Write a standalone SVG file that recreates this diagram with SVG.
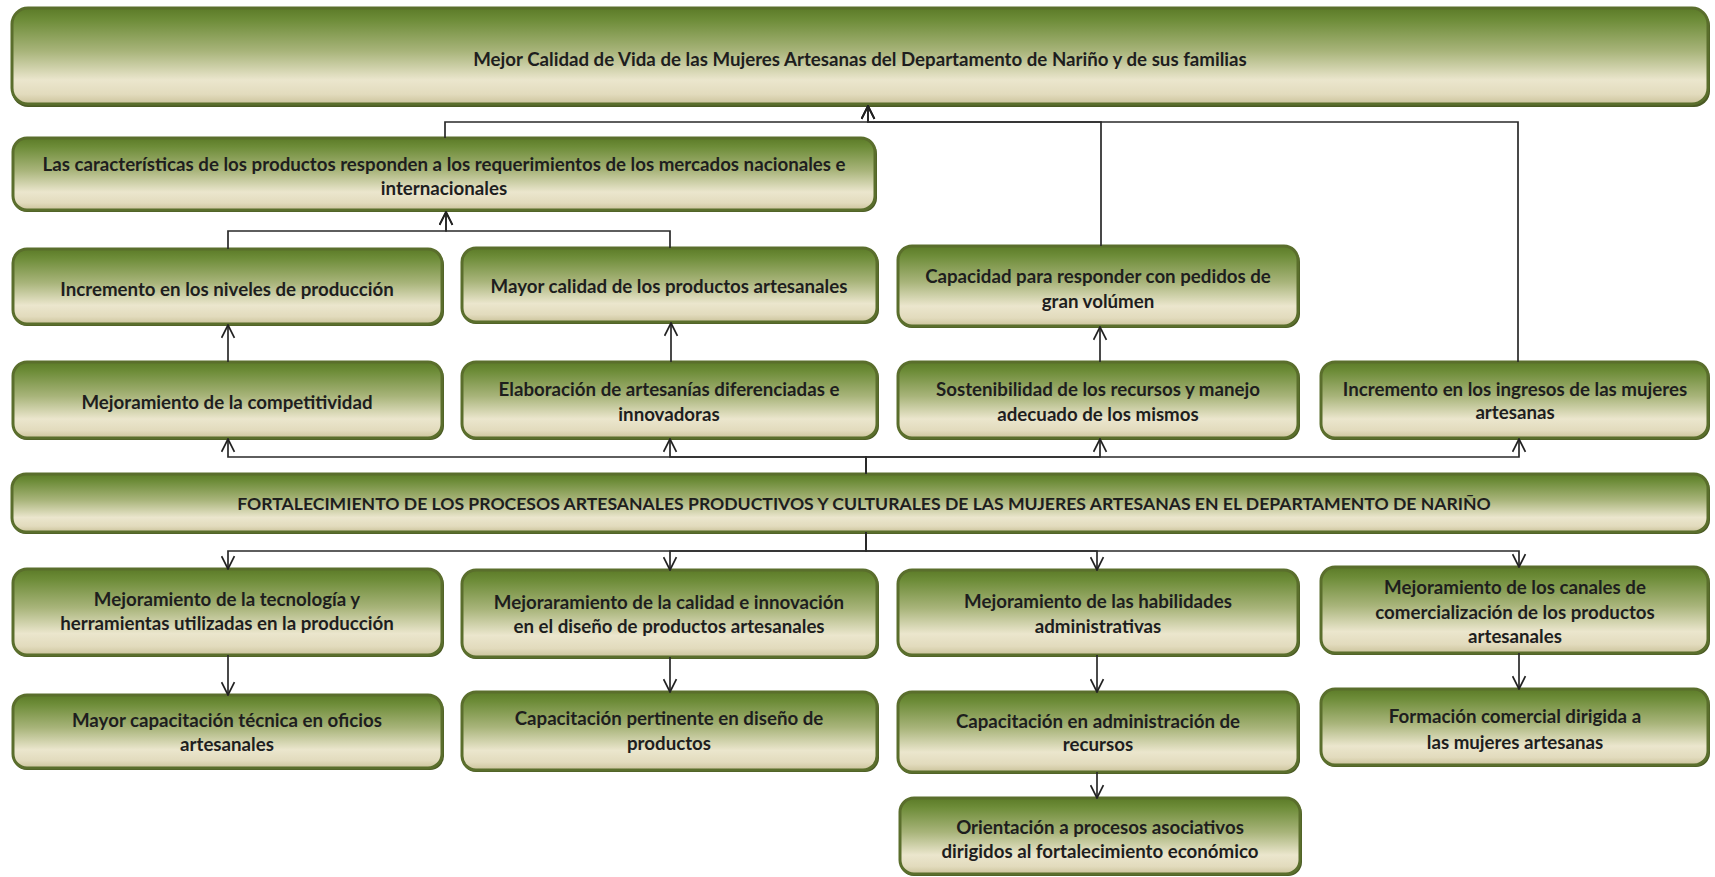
<svg xmlns="http://www.w3.org/2000/svg" width="1715" height="877" viewBox="0 0 1715 877">
<defs>
<linearGradient id="g" x1="0" y1="0" x2="0" y2="1">
<stop offset="0" stop-color="#5c7b28"/>
<stop offset="0.12" stop-color="#6d8c38"/>
<stop offset="0.45" stop-color="#a8b47a"/>
<stop offset="0.75" stop-color="#ebe6cd"/>
<stop offset="0.9" stop-color="#e2dbbd"/>
<stop offset="1" stop-color="#cbc39b"/>
</linearGradient>
<marker id="ah" viewBox="0 0 14 14" refX="13" refY="7" markerWidth="15" markerHeight="15" markerUnits="userSpaceOnUse" orient="auto">
<path d="M1,1 L13,7 L1,13" fill="none" stroke="#222" stroke-width="1.6"/>
</marker>
<style>
.sh{fill:#4a5a24;}
.bx{fill:url(#g);stroke:#5a6e2c;stroke-width:3;}
.t{font-family:"Lato","Liberation Sans",sans-serif;font-weight:700;font-size:18.7px;fill:#1e1e1e;text-anchor:middle;}
.f{font-size:17.6px;}
.c{fill:none;stroke:#2a2a2a;stroke-width:1.7;}
.ca{fill:none;stroke:#2a2a2a;stroke-width:1.7;marker-end:url(#ah);}
</style>
</defs>
<rect width="1715" height="877" fill="#ffffff"/>

<g id="n-top">
<rect class="sh" x="12" y="10" width="1698" height="97" rx="16"/>
<rect class="bx" x="12" y="8" width="1696" height="96" rx="16"/>
<text class="t" x="860" y="66">Mejor Calidad de Vida de las Mujeres Artesanas del Departamento de Nariño y de sus familias</text>
</g>

<g id="n-caracteristicas">
<rect class="sh" x="13" y="140" width="864" height="72" rx="14"/>
<rect class="bx" x="13" y="138" width="862" height="72" rx="14"/>
<text class="t" x="444" y="171">Las características de los productos responden a los requerimientos de los mercados nacionales e</text>
<text class="t" x="444" y="195">internacionales</text>
</g>

<g id="n-niveles">
<rect class="sh" x="13" y="251" width="431" height="75" rx="14"/>
<rect class="bx" x="13" y="249" width="429" height="75" rx="14"/>
<text class="t" x="227" y="296">Incremento en los niveles de producción</text>
</g>

<g id="n-calidad">
<rect class="sh" x="462" y="250" width="417" height="74" rx="14"/>
<rect class="bx" x="462" y="248" width="415" height="74" rx="14"/>
<text class="t" x="669" y="293">Mayor calidad de los productos artesanales</text>
</g>

<g id="n-capacidad">
<rect class="sh" x="898" y="248" width="402" height="80" rx="14"/>
<rect class="bx" x="898" y="246" width="400" height="80" rx="14"/>
<text class="t" x="1098" y="283">Capacidad para responder con pedidos de</text>
<text class="t" x="1098" y="308">gran volúmen</text>
</g>

<g id="n-competitividad">
<rect class="sh" x="13" y="364" width="431" height="76" rx="14"/>
<rect class="bx" x="13" y="362" width="429" height="76" rx="14"/>
<text class="t" x="227" y="409">Mejoramiento de la competitividad</text>
</g>

<g id="n-elaboracion">
<rect class="sh" x="462" y="364" width="417" height="76" rx="14"/>
<rect class="bx" x="462" y="362" width="415" height="76" rx="14"/>
<text class="t" x="669" y="396">Elaboración de artesanías diferenciadas e</text>
<text class="t" x="669" y="421">innovadoras</text>
</g>

<g id="n-sostenibilidad">
<rect class="sh" x="898" y="364" width="402" height="76" rx="14"/>
<rect class="bx" x="898" y="362" width="400" height="76" rx="14"/>
<text class="t" x="1098" y="396">Sostenibilidad de los recursos y manejo</text>
<text class="t" x="1098" y="421">adecuado de los mismos</text>
</g>

<g id="n-ingresos">
<rect class="sh" x="1321" y="364" width="389" height="76" rx="14"/>
<rect class="bx" x="1321" y="362" width="387" height="76" rx="14"/>
<text class="t" x="1515" y="396">Incremento en los ingresos de las mujeres</text>
<text class="t" x="1515" y="419">artesanas</text>
</g>

<g id="n-fortalecimiento">
<rect class="sh" x="12" y="476" width="1698" height="58" rx="14"/>
<rect class="bx" x="12" y="474" width="1696" height="58" rx="14"/>
<text class="t f" x="864" y="510">FORTALECIMIENTO DE LOS PROCESOS ARTESANALES PRODUCTIVOS Y CULTURALES DE LAS MUJERES ARTESANAS EN EL DEPARTAMENTO DE NARIÑO</text>
</g>

<g id="n-tecnologia">
<rect class="sh" x="13" y="571" width="431" height="86" rx="14"/>
<rect class="bx" x="13" y="569" width="429" height="86" rx="14"/>
<text class="t" x="227" y="606">Mejoramiento de la tecnología y</text>
<text class="t" x="227" y="630">herramientas utilizadas en la producción</text>
</g>

<g id="n-innovacion">
<rect class="sh" x="462" y="572" width="417" height="87" rx="14"/>
<rect class="bx" x="462" y="570" width="415" height="87" rx="14"/>
<text class="t" x="669" y="609">Mejoraramiento de la calidad e innovación</text>
<text class="t" x="669" y="633">en el diseño de productos artesanales</text>
</g>

<g id="n-habilidades">
<rect class="sh" x="898" y="572" width="402" height="85" rx="14"/>
<rect class="bx" x="898" y="570" width="400" height="85" rx="14"/>
<text class="t" x="1098" y="608">Mejoramiento de las habilidades</text>
<text class="t" x="1098" y="633">administrativas</text>
</g>

<g id="n-canales">
<rect class="sh" x="1321" y="569" width="389" height="86" rx="14"/>
<rect class="bx" x="1321" y="567" width="387" height="86" rx="14"/>
<text class="t" x="1515" y="594">Mejoramiento de los canales de</text>
<text class="t" x="1515" y="619">comercialización de los productos</text>
<text class="t" x="1515" y="643">artesanales</text>
</g>

<g id="n-oficios">
<rect class="sh" x="13" y="697" width="431" height="73" rx="14"/>
<rect class="bx" x="13" y="695" width="429" height="73" rx="14"/>
<text class="t" x="227" y="727">Mayor capacitación técnica en oficios</text>
<text class="t" x="227" y="751">artesanales</text>
</g>

<g id="n-diseno">
<rect class="sh" x="462" y="694" width="417" height="78" rx="14"/>
<rect class="bx" x="462" y="692" width="415" height="78" rx="14"/>
<text class="t" x="669" y="725">Capacitación pertinente en diseño de</text>
<text class="t" x="669" y="750">productos</text>
</g>

<g id="n-administracion">
<rect class="sh" x="898" y="694" width="402" height="80" rx="14"/>
<rect class="bx" x="898" y="692" width="400" height="80" rx="14"/>
<text class="t" x="1098" y="728">Capacitación en administración de</text>
<text class="t" x="1098" y="751">recursos</text>
</g>

<g id="n-formacion">
<rect class="sh" x="1321" y="691" width="389" height="76" rx="14"/>
<rect class="bx" x="1321" y="689" width="387" height="76" rx="14"/>
<text class="t" x="1515" y="723">Formación comercial dirigida a</text>
<text class="t" x="1515" y="749">las mujeres artesanas</text>
</g>

<g id="n-asociativos">
<rect class="sh" x="900" y="800" width="402" height="76" rx="14"/>
<rect class="bx" x="900" y="798" width="400" height="76" rx="14"/>
<text class="t" x="1100" y="834">Orientación a procesos asociativos</text>
<text class="t" x="1100" y="858">dirigidos al fortalecimiento económico</text>
</g>

<g id="connectors">
<path class="ca" d="M445,138 V122 H868 V106"/>
<path class="ca" d="M1101,246 V122 H868 V106"/>
<path class="ca" d="M1518,362 V122 H868 V106"/>
<path class="ca" d="M228,249 V231 H446 V212"/>
<path class="ca" d="M670,248 V231 H446 V212"/>
<path class="ca" d="M228,362 V325"/>
<path class="ca" d="M671,362 V323"/>
<path class="ca" d="M1100,362 V327"/>
<path class="ca" d="M866,474 V457 H228 V439"/>
<path class="ca" d="M866,474 V457 H670 V439"/>
<path class="ca" d="M866,474 V457 H1100 V439"/>
<path class="ca" d="M866,474 V457 H1519 V439"/>
<path class="ca" d="M866,532 V551 H228 V569"/>
<path class="ca" d="M866,532 V551 H670 V570"/>
<path class="ca" d="M866,532 V551 H1097 V570"/>
<path class="ca" d="M866,532 V551 H1519 V567"/>
<path class="ca" d="M228,655 V695"/>
<path class="ca" d="M670,657 V692"/>
<path class="ca" d="M1097,655 V692"/>
<path class="ca" d="M1519,653 V689"/>
<path class="ca" d="M1097,772 V798"/>
</g>
</svg>
